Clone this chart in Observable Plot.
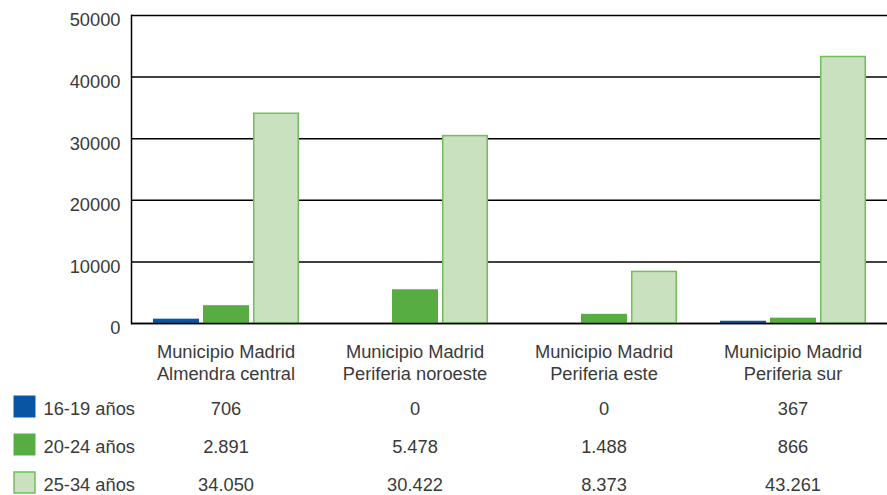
<!DOCTYPE html>
<html>
<head>
<meta charset="utf-8">
<script src="https://cdn.jsdelivr.net/npm/d3@7"></script>
<script src="https://cdn.jsdelivr.net/npm/@observablehq/plot@0.6"></script>
<style>
  html, body { margin: 0; padding: 0; background: #fff; }
  #chart svg { display: block; }
</style>
</head>
<body>
<div id="chart"></div>
<script>
const categories = [
  "Municipio Madrid\nAlmendra central",
  "Municipio Madrid\nPeriferia noroeste",
  "Municipio Madrid\nPeriferia este",
  "Municipio Madrid\nPeriferia sur"
];
const series = ["16-19 años", "20-24 años", "25-34 años"];
const values1619 = [706, 0, 0, 367];
const values2024 = [2891, 5478, 1488, 866];
const values2534 = [34050, 30422, 8373, 43261];
const yTicks = [0, 10000, 20000, 30000, 40000, 50000];
const colors = ["#0a55a3", "#58ad42", "#c9e1bf"];
const lightBorder = "#72bd5c";

const allValues = [values1619, values2024, values2534];
const rows = [];
series.forEach((s, si) => categories.forEach((c, ci) => rows.push({cat: c, series: s, value: allValues[si][ci]})));

const esLocale = d3.formatLocale({decimal: ",", thousands: ".", grouping: [3], currency: ["", "€"]});
const fmt = esLocale.format(",d");

const font = "'Liberation Sans', Arial, sans-serif";
const textColor = "#3a3a3a";
const fs = 18.3;

const main = Plot.plot({
  width: 887,
  height: 390,
  marginLeft: 130,
  marginRight: 0,
  marginTop: 15,
  marginBottom: 67,
  style: {fontFamily: font, fontSize: fs + "px", color: textColor, background: "#fff"},
  fx: {domain: categories, padding: 0},
  x: {domain: series, paddingInner: 0.08, paddingOuter: 0.42, axis: null},
  y: {domain: [0, 50000]},
  color: {domain: series, range: colors},
  marks: [
    Plot.ruleY(yTicks, {stroke: "#000", strokeWidth: 1.5}),
    Plot.frame({anchor: "left", fx: () => categories[0], stroke: "#000", strokeWidth: 1.5}),
    Plot.barY(rows.filter(d => d.series !== series[2]), {fx: "cat", x: "series", y: "value", fill: "series"}),
    Plot.barY(rows.filter(d => d.series === series[2]), {fx: "cat", x: "series", y: "value", fill: "series", stroke: lightBorder, strokeWidth: 1.5, insetLeft: 0.75, insetRight: 0.75}),
    Plot.ruleY([0], {stroke: "#000", strokeWidth: 1.5}),
    Plot.axisY({ticks: yTicks, tickSize: 0, tickPadding: 11, dy: 5, tickFormat: d3.format("d"), label: null, fontSize: fs, fill: textColor}),
    Plot.axisFx({anchor: "bottom", tickSize: 0, tickPadding: 19, label: null, lineHeight: 1.2, fontSize: fs, fill: textColor})
  ]
});

const table = Plot.plot({
  width: 887,
  height: 105,
  marginLeft: 130,
  marginRight: 0,
  marginTop: 19,
  marginBottom: 10,
  style: {fontFamily: font, fontSize: fs + "px", color: textColor, background: "#fff", overflow: "visible"},
  x: {type: "band", domain: categories, padding: 0, axis: null},
  y: {type: "point", domain: series, padding: 0, axis: null},
  color: {domain: series, range: colors},
  marks: [
    Plot.text(rows, {x: "cat", y: "series", text: d => fmt(d.value), fontSize: fs, fill: textColor}),
    Plot.dot(series.slice(0, 2), {y: d => d, frameAnchor: "left", dx: -106, dy: -3, symbol: "square", r: 12.4, fill: d => d}),
    Plot.dot(series.slice(2), {y: d => d, frameAnchor: "left", dx: -106, dy: -3, symbol: "square", r: 11.8, fill: d => d, stroke: lightBorder, strokeWidth: 1.5}),
    Plot.text(series, {y: d => d, frameAnchor: "left", dx: -87, textAnchor: "start", text: d => d, fontSize: fs, fill: textColor})
  ]
});

const el = document.getElementById("chart");
el.appendChild(main);
el.appendChild(table);
</script>
</body>
</html>
